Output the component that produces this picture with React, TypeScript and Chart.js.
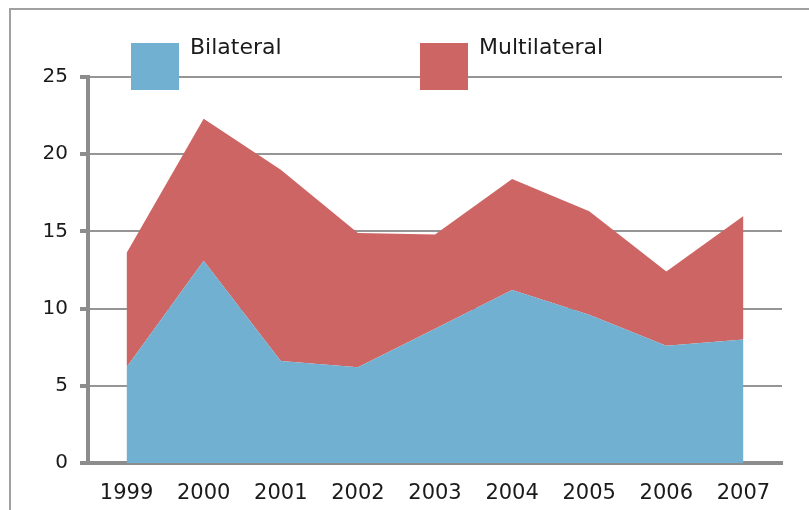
import React, { useEffect, useRef } from "react";
import { Chart, registerables } from "chart.js";

Chart.register(...registerables);

const years = ["1999", "2000", "2001", "2002", "2003", "2004", "2005", "2006", "2007"];
const bilateral = [6.2, 13.1, 6.6, 6.2, 8.7, 11.2, 9.6, 7.6, 8.0];
const multilateral = [7.4, 9.2, 12.4, 8.7, 6.1, 7.2, 6.7, 4.8, 8.0];
const seriesNames = ["Bilateral", "Multilateral"];
const seriesColors = ["#71b0d0", "#cc6564"];

const FONT = "'DejaVu Sans', sans-serif";

const legendPlugin = {
  id: "customLegend",
  afterDraw(chart: any) {
    const ctx = chart.ctx;
    const xs = [131, 420];
    ctx.save();
    chart.data.datasets.forEach((ds: any, i: number) => {
      const x = xs[i];
      ctx.fillStyle = ds.backgroundColor;
      ctx.fillRect(x, 43, 48, 47);
      ctx.fillStyle = "#1a1a1a";
      ctx.font = "22px " + FONT;
      ctx.textBaseline = "alphabetic";
      ctx.textAlign = "left";
      ctx.fillText(ds.label, x + 59, 54);
    });
    ctx.restore();
  },
};

export default function App() {
  const ref = useRef<HTMLCanvasElement>(null);
  useEffect(() => {
    if (!ref.current) return;
    const chart = new Chart(ref.current, {
      type: "line",
      data: {
        labels: years,
        datasets: [
          {
            label: seriesNames[0],
            data: bilateral,
            backgroundColor: seriesColors[0],
            borderWidth: 0,
            pointRadius: 0,
            fill: "origin",
            tension: 0,
          },
          {
            label: seriesNames[1],
            data: multilateral,
            backgroundColor: seriesColors[1],
            borderWidth: 0,
            pointRadius: 0,
            fill: "-1",
            tension: 0,
          },
        ],
      },
      options: {
        animation: false,
        responsive: false,
        maintainAspectRatio: false,
        layout: { padding: { left: 41, right: 27, top: 77, bottom: 0 } },
        plugins: { legend: { display: false }, tooltip: { enabled: false } },
        scales: {
          x: {
            offset: true,
            grid: { display: false, drawTicks: false },
            border: { display: true, color: "#8c8c8c", width: 4 },
            ticks: { color: "#1a1a1a", font: { family: FONT, size: 21 }, padding: 18, maxRotation: 0 },
            afterFit: (s: any) => { s.height = 47; },
          },
          y: {
            stacked: true,
            min: 0,
            max: 25,
            grid: { color: "#959595", lineWidth: 2, tickLength: 8, tickWidth: 4, tickColor: "#8c8c8c" },
            border: { display: true, color: "#8c8c8c", width: 4 },
            ticks: { stepSize: 5, color: "#1a1a1a", font: { family: FONT, size: 20 }, padding: 12 },
            afterFit: (s: any) => { s.width = 47; },
          },
        },
      },
      plugins: [legendPlugin],
    });
    return () => chart.destroy();
  }, []);
  return (
    <div style={{ position: "fixed", left: 0, top: 0, width: 809, height: 510, background: "#fff" }}>
      <div style={{ position: "absolute", left: 9, top: 8, right: 0, bottom: 0, borderTop: "2px solid #a0a0a0", borderLeft: "2px solid #a0a0a0" }} />
      <canvas ref={ref} width={809} height={510} style={{ position: "absolute", left: 0, top: 0 }} />
    </div>
  );
}
